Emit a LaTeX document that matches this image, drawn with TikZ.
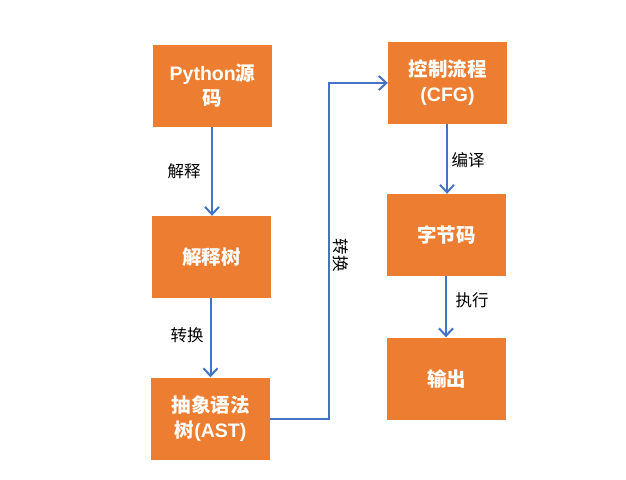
\documentclass[tikz,border=0pt]{standalone}
\usepackage{fontspec}
\setmainfont{Noto Sans CJK SC}
\newfontfamily\latfont{Liberation Sans}
\usetikzlibrary{arrows.meta}
\definecolor{boxorange}{HTML}{ED7D31}
\definecolor{arrowblue}{HTML}{4472C4}
\begin{document}
\begin{tikzpicture}[x=1pt,y=-1pt,
  stepbox/.style={fill=boxorange,draw=none,minimum width=119pt,minimum height=82pt,inner sep=0pt,
    text=white,font=\fontsize{19.5}{25}\selectfont\bfseries,align=center},
  flow/.style={draw=arrowblue,line width=2pt,-{Straight Barb[length=7.5pt,width=14pt,line width=2pt]}},
  lbl/.style={font=\fontsize{16.5}{18}\selectfont,text=black,inner sep=0pt}]
\useasboundingbox (0,0) rectangle (626,479);
\node[stepbox] (b1) at (212.5,86) {{\latfont\bfseries Python}源\\码};
\node[stepbox] (b2) at (211.5,257) {解释树};
\node[stepbox] (b3) at (210.5,418.5) {抽象语法\\树{\latfont\bfseries (AST)}};
\node[stepbox] (b4) at (447.5,83) {控制流程\\{\latfont\bfseries (CFG)}};
\node[stepbox] (b5) at (446.5,235) {字节码};
\node[stepbox] (b6) at (446.5,378.5) {输出};
\coordinate (bend) at (329,418.5);
\draw[flow] (b1.south -| 212,0) -- (b2.north -| 212,0);
\draw[flow] (b2.south -| 210.5,0) -- (b3.north -| 210.5,0);
\draw[flow] (b3.east) -- (bend) |- (b4.west);
\draw[flow] (b4.south -| 447,0) -- (b5.north -| 447,0);
\draw[flow] (b5.south -| 446,0) -- (b6.north -| 446,0);
\node[lbl] (l1) at (184,171) {解释};
\node[lbl] (l2) at (187,335) {转换};
\node[lbl,rotate=-90] (l3) at (341,255) {转换};
\node[lbl] (l4) at (468,160) {编译};
\node[lbl] (l5) at (472,300) {执行};
\end{tikzpicture}
\end{document}
